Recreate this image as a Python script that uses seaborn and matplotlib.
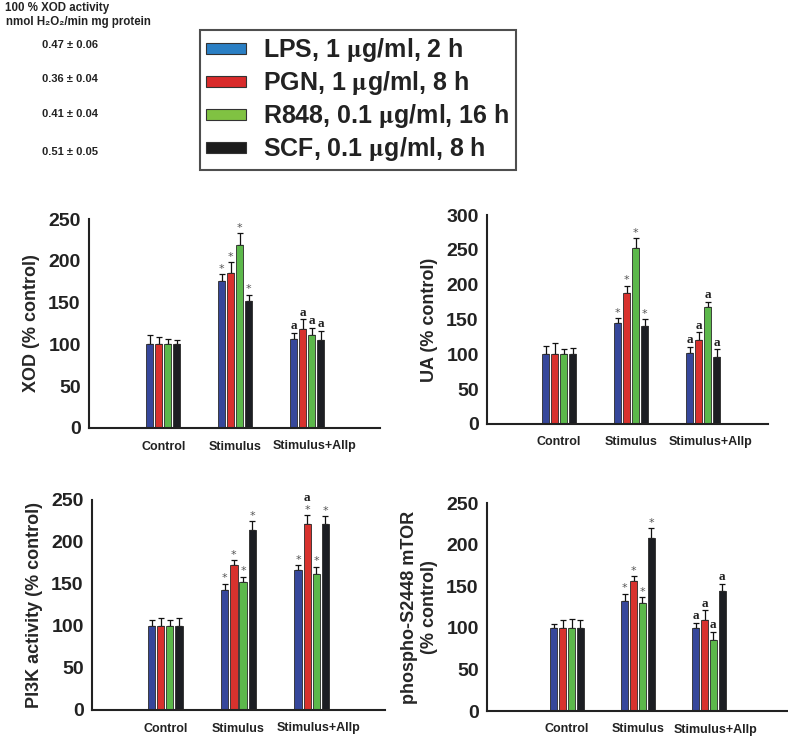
import matplotlib
matplotlib.use("Agg")
import matplotlib.pyplot as plt
import matplotlib.transforms as mtransforms
from matplotlib.patches import Patch
import seaborn as sns
import pandas as pd

# categories / treatments
groups = ["Control", "Stimulus", "Stimulus+Allp"]
treatments = ["LPS", "PGN", "R848", "SCF"]
legend_labels = [r"LPS, 1 $\mathrm{\mu}$g/ml, 2 h",
                 r"PGN, 1 $\mathrm{\mu}$g/ml, 8 h",
                 r"R848, 0.1 $\mathrm{\mu}$g/ml, 16 h",
                 r"SCF, 0.1 $\mathrm{\mu}$g/ml, 8 h"]
baseline_text = ["0.47 ± 0.06", "0.36 ± 0.04", "0.41 ± 0.04", "0.51 ± 0.05"]

# rows = groups, cols = treatments
xod_mean = [[100, 100, 100, 100], [176, 186, 219, 152], [106, 119, 111, 105]]
xod_err = [[11, 8.5, 6.5, 5], [8, 12, 14, 7.5], [8, 11, 9, 11]]
xod_marks = [["", "", "", ""], ["*", "*", "*", "*"], ["a", "a", "a", "a"]]

ua_mean = [[100, 100, 100, 100], [144.5, 187.5, 253, 140], [102, 120.5, 167.5, 96.5]]
ua_err = [[12, 16, 7, 9], [7, 11, 13.5, 10], [9, 11, 8, 10.5]]
ua_marks = [["", "", "", ""], ["*", "*", "*", "*"], ["a", "a", "a", "a"]]

pi3k_mean = [[100, 100, 100, 100], [143, 172.5, 152, 214], [166.5, 221.5, 162, 222]]
pi3k_err = [[7, 9, 7, 9], [7.5, 6, 6.5, 10.5], [6, 10.5, 8.5, 9]]
pi3k_marks = [["", "", "", ""], ["*", "*", "*", "*"], ["*", "*a", "*", "*"]]

mtor_mean = [[100, 100, 100, 100], [132.5, 156, 130, 208.5], [99.5, 109.5, 85.5, 144]]
mtor_err = [[5, 9, 11, 9], [8.5, 6, 6.5, 11], [6.5, 11.5, 10, 9]]
mtor_marks = [["", "", "", ""], ["*", "*", "*", "*"], ["a", "a", "a", "a"]]

bar_colors = ["#36479b", "#d8322e", "#5cb84b", "#1c1e23"]
legend_colors = ["#2a7fc4", "#d92b2b", "#80c242", "#1c1c1c"]

sns.set_style("white")
plt.rcParams["font.family"] = ["Liberation Sans", "DejaVu Sans"]
plt.rcParams["font.weight"] = "bold"
plt.rcParams["mathtext.fontset"] = "stix"

W, H = 788, 739
fig = plt.figure(figsize=(W / 100, H / 100), dpi=100)


def draw_panel(ax, mean, err, marks, ylabel, ymax, yticks, xlim):
    rows = []
    for gi, g in enumerate(groups):
        for ti, t in enumerate(treatments):
            rows.append({"group": g, "treatment": t, "value": mean[gi][ti]})
    df = pd.DataFrame(rows)
    sns.barplot(data=df, x="group", y="value", hue="treatment",
                order=groups, hue_order=treatments, palette=bar_colors,
                width=0.5, gap=0.2, errorbar=None, legend=False,
                edgecolor="#2a2a2a", linewidth=0.6, saturation=1, ax=ax)

    bar_conts = list(ax.containers)
    for ti, cont in enumerate(bar_conts):
        for gi, bar in enumerate(cont.patches):
            x = bar.get_x() + bar.get_width() / 2
            y = bar.get_height()
            e = err[gi][ti]
            ax.errorbar(x, y, yerr=[[0], [e]], fmt="none", ecolor="#111111",
                        elinewidth=0.9, capsize=2.5, capthick=0.9, zorder=0.5)
            m = marks[gi][ti]
            if "*" in m:
                ax.annotate("*", (x, y + e), xytext=(0, 0.3), textcoords="offset points",
                            ha="center", va="bottom", fontsize=8, color="#555555",
                            fontweight="normal", family="DejaVu Sans")
            if "a" in m:
                off = 8 if "*" in m else 0.5
                ax.annotate("a", (x, y + e), xytext=(0, off), textcoords="offset points",
                            ha="center", va="bottom", fontsize=9.5, color="#222222",
                            fontweight="bold", family="Liberation Serif")

    ax.set_ylim(0, ymax)
    ax.set_yticks(yticks)
    ax.set_xlim(*xlim)
    ax.set_xlabel("")
    ax.set_ylabel(ylabel, fontsize=13, fontweight="bold", labelpad=6)
    sns.despine(ax=ax)
    for s in ["left", "bottom"]:
        ax.spines[s].set_linewidth(1.5)
        ax.spines[s].set_color("#222222")
    ax.tick_params(axis="y", length=0, pad=6, labelsize=14)
    ax.tick_params(axis="x", length=4, width=1.2, direction="out", pad=5,
                   labelsize=9, color="#222222")
    for lab in ax.get_xticklabels() + ax.get_yticklabels():
        lab.set_fontweight("bold")
        lab.set_color("#222222")
    # last category label sits a little right of its tick in the original
    shift = mtransforms.ScaledTranslation(7 / 100, 0, fig.dpi_scale_trans)
    last = ax.get_xticklabels()[-1]
    last.set_transform(last.get_transform() + shift)


def axes_px(left, top, right, bottom):
    return fig.add_axes([left / W, 1 - bottom / H, (right - left) / W, (bottom - top) / H])


ax1 = axes_px(89, 219, 380, 428)
ax2 = axes_px(487, 215, 768, 424)
ax3 = axes_px(92, 500, 385, 710)
ax4 = axes_px(487, 503, 787, 711)

draw_panel(ax1, xod_mean, xod_err, xod_marks, "XOD (% control)", 250,
           [0, 50, 100, 150, 200, 250], (-1.03, 3.01))
draw_panel(ax2, ua_mean, ua_err, ua_marks, "UA (% control)", 300,
           [0, 50, 100, 150, 200, 250, 300], (-1.0, 2.9))
draw_panel(ax3, pi3k_mean, pi3k_err, pi3k_marks, "PI3K activity (% control)", 250,
           [0, 50, 100, 150, 200, 250], (-1.0, 3.0))
draw_panel(ax4, mtor_mean, mtor_err, mtor_marks, "phospho-S2448 mTOR\n(% control)", 250,
           [0, 50, 100, 150, 200, 250], (-1.13, 3.1))

# header text top-left
fig.text(5 / W, 1 - 8 / H, "100 % XOD activity", fontsize=8.3, fontweight="bold",
         va="center", ha="left", color="#222222")
fig.text(6 / W, 1 - 22 / H, "nmol H₂O₂/min mg protein", fontsize=8.3, fontweight="bold",
         va="center", ha="left", color="#222222")
for txt, yy in zip(baseline_text, [45, 79, 114, 152]):
    fig.text(42 / W, 1 - yy / H, txt, fontsize=8, fontweight="bold",
             va="center", ha="left", color="#222222")

handles = [Patch(facecolor=c, edgecolor="#333333", linewidth=0.8) for c in legend_colors]
leg = fig.legend(handles, legend_labels, loc="upper left",
                 bbox_to_anchor=(200 / W, 1 - 30 / H), frameon=True, fancybox=False,
                 edgecolor="#222222", prop={"weight": "bold", "size": 18},
                 handlelength=1.6, handleheight=0.28, labelspacing=0.2,
                 borderpad=0.25, handletextpad=0.68, borderaxespad=0)
leg.get_frame().set_linewidth(1.5)
for t in leg.get_texts():
    t.set_color("#222222")

fig.savefig("out.png", dpi=100)
